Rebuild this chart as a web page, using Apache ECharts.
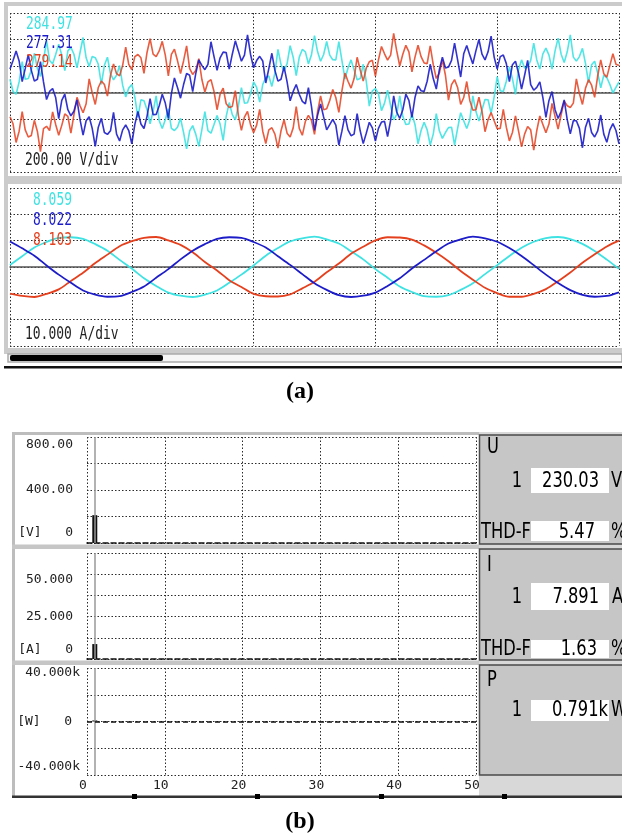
<!DOCTYPE html>
<html>
<head>
<meta charset="utf-8">
<script src="https://cdn.jsdelivr.net/npm/echarts@6/dist/echarts.min.js"></script>
<style>
html, body { margin: 0; padding: 0; background: #fff; }
#main { width: 622px; height: 838px; }
</style>
</head>
<body>
<div id="main"></div>
<script>
// (a) waveforms
var stepV = 0.25;   // ms between voltage samples
var voltCyan = [100,8,-13,80,233,100,106,167,296,180,122,238,393,241,217,287,365,282,166,314,
    340,289,186,302,415,262,197,271,263,213,62,205,266,142,96,130,203,55,-33,33,
    60,-33,-187,-55,-63,-130,-236,-142,-26,-213,-272,-205,-123,-271,-287,-262,-195,-302,-426,-289,
    -250,-314,-406,-282,-145,-287,-307,-241,-173,-238,-362,-180,-76,-167,-206,-100,37,-80,-77,-8,
    80,38,-73,60,113,125,46,147,326,210,162,218,353,266,127,267,325,307,216,284,
    430,309,236,287,385,282,247,246,383,243,102,185,246,172,96,105,213,85,-103,13,
    30,-8,-137,-80,17,-100,-206,-167,-26,-180,-242,-238,-163,-241,-387,-287,-225,-282,-396,-314,
    -160,-289,-346,-302,-265,-262,-397,-271,-153,-213,-272,-205,-26,-142,-216,-130,-53,-55,-157,-33,
    120,13,7,85,193,105,-14,172,246,185,192,243,373,246,177,292,335,282,176,314,
    410,289,226,307,435,267,237,271,333,218,72,210,236,147,36,130,113,60,-3,38,
    80];
var voltBlue = [177,241,313,238,82,180,286,167,86,100,233,80,-53,8,30,-38,-197,-60,-13,-130,
    -176,-142,-56,-205,-322,-213,-183,-271,-407,-262,-195,-302,-316,-289,-150,-314,-366,-282,-245,-287,
    -387,-241,-143,-238,-272,-180,-46,-167,-166,-100,-13,-80,-197,-8,110,38,-43,60,143,130,
    6,142,246,205,172,213,383,271,167,262,305,302,176,289,390,314,236,282,435,287,
    187,241,273,238,72,180,296,167,86,100,193,80,-63,8,60,-13,-67,-85,37,-105,
    -286,-172,-86,-185,-282,-243,-203,-246,-397,-292,-175,-282,-326,-314,-160,-289,-386,-307,-225,-267,
    -367,-271,-223,-218,-332,-210,-26,-147,-196,-130,-13,-60,-187,-38,50,13,7,85,213,105,
    26,172,266,185,192,243,373,246,117,292,355,282,216,314,400,289,246,307,425,267,
    177,271,283,218,82,210,236,147,26,130,243,60,17,38,80,-38,-187,-60,7,-130,
    -196,-142,-56,-205,-312,-213,-213,-271,-417,-262,-195,-302,-336,-289,-170,-314,-376,-282,-235,-287,
    -387];
var voltRed = [-183,-236,-377,-292,-145,-282,-336,-324,-210,-294,-446,-272,-255,-287,-147,-241,-323,-248,-162,-180,
    -306,-167,-36,-100,-153,-85,103,-3,-90,38,87,60,-27,130,216,142,126,205,342,213,
    173,271,287,262,145,302,406,289,270,314,386,282,125,287,327,241,143,238,352,180,
    136,167,256,100,3,80,97,8,-130,-13,33,-85,-113,-105,14,-172,-286,-185,-142,-243,
    -303,-246,-127,-292,-385,-282,-266,-314,-420,-289,-206,-307,-335,-267,-107,-271,-323,-218,-172,-210,
    -316,-147,-26,-130,-123,-60,23,-38,-150,13,147,85,33,105,266,172,86,185,232,243,
    123,246,347,292,245,282,446,314,200,289,356,307,155,267,357,271,223,218,352,210,
    106,147,246,130,-57,60,97,38,-90,-38,83,-60,-133,-130,-36,-142,-296,-205,-152,-213,
    -273,-271,-127,-262,-365,-302,-176,-289,-410,-314,-256,-282,-435,-287,-177,-241,-303,-238,-82,-180,
    -276,-167,-66,-100,-113,-80,103,-8,-90,33,97,55,-37,125,246,142,116,205,292,213,
    203];

var stepI = 1;     // ms between current samples
var ampCyan = [0.8,4.1,7.4,9.5,11.1,11.3,10.7,8.7,6.2,2.7,
    -0.6,-4.3,-7.2,-9.7,-10.9,-11.4,-10.5,-8.9,-6.0,-2.9,
    0.6,4.3,7.2,9.7,10.9,11.5,10.5,8.9,6.0,2.9,
    -0.8,-4.1,-7.4,-9.5,-11.1,-11.3,-10.7,-8.7,-6.2,-2.7,
    0.7,4.2,7.3,9.6,11.0,11.4,10.6,8.8,6.1,2.8,
    -0.7];
var ampBlue = [9.7,7.1,4.3,0.6,-2.9,-6.0,-8.9,-10.5,-11.3,-11.1,
    -9.5,-7.4,-4.1,-0.8,2.9,6.2,8.7,10.7,11.3,11.1,
    9.5,7.4,4.1,0.8,-2.7,-6.2,-8.7,-10.7,-11.4,-10.9,
    -9.7,-7.2,-4.3,-0.6,2.7,6.0,8.9,10.5,11.5,10.9,
    9.6,7.2,4.2,0.7,-2.9,-6.1,-8.8,-10.6,-11.3,-11.0,
    -9.6];
var ampRed = [-10.1,-11.0,-11.4,-10.2,-8.5,-5.3,-2.2,1.5,4.7,7.9,
    9.8,11.1,11.4,10.1,8.4,5.6,1.9,-1.3,-5.0,-7.6,
    -10.2,-11.1,-11.2,-10.4,-8.1,-5.6,-2.0,1.3,5.0,7.7,
    10.1,11.3,11.2,10.4,8.2,5.4,2.2,-1.5,-4.8,-7.9,
    -9.9,-11.3,-11.3,-10.2,-8.4,-5.4,-2.1,1.6,4.8,7.8,
    10.0];

var rmsV = ['284.97', '277.31', '279.14'];   // cyan, blue, red
var rmsA = ['8.059', '8.022', '8.103'];
var divV = '200.00 V/div';
var divA = '10.000 A/div';

// (b) harmonics
var harmOrder = [1];
var harmU = [210];
var harmI = [8.8];
var harmP = [791];
var readU = ['230.03', '5.47'];
var readI = ['7.891', '1.63'];
var readP = ['0.791k'];

var cCyan = '#3ee2e2', cBlue = '#1c1cc8', cRed = '#e4401e';
var mono = '"DejaVu Sans Mono", monospace';
var dots = { color: '#2a2a2a', width: 1, type: [1.5, 2] };

function pts(arr, step) {
    return arr.map(function (v, i) { return [i * step, v]; });
}
function bars(vals) {
    return vals.map(function (v, i) { return [harmOrder[i], v]; });
}

function waveX(idx) {
    return {
        gridIndex: idx, type: 'value', min: 0, max: 50, interval: 10,
        axisLine: { onZero: true, lineStyle: { color: '#555', width: 1.5 } },
        axisTick: { show: false }, axisLabel: { show: false },
        splitLine: { show: true, lineStyle: dots }
    };
}
function harmX(idx, labels) {
    return {
        gridIndex: idx, type: 'value', min: 0, max: 50, interval: 10,
        axisLine: { show: !labels, onZero: true, lineStyle: { color: '#111', width: 1.5, type: [5, 3] } },
        axisTick: { show: false },
        axisLabel: {
            show: labels, margin: 4, fontFamily: mono, fontSize: 13, color: '#222',
            padding: [0, 8, 0, 0]
        },
        splitLine: { show: true, lineStyle: dots }
    };
}
function harmY(idx, min, max, itv, margin, fmt) {
    var lab = { fontFamily: mono, fontSize: 13, color: '#222' };
    return {
        gridIndex: idx, type: 'value', min: min, max: max, interval: itv,
        axisLine: { show: false }, axisTick: { show: false },
        axisLabel: {
            margin: margin, fontFamily: mono, fontSize: 13, color: '#222', formatter: fmt,
            rich: {
                hi16: Object.assign({ padding: [16, 0, 0, 0] }, lab),
                hi10: Object.assign({ padding: [10, 0, 0, 0] }, lab),
                lo20: Object.assign({ padding: [0, 0, 20, 0] }, lab),
                lo18: Object.assign({ padding: [0, 0, 18, 0] }, lab),
                lo16: Object.assign({ padding: [0, 0, 16, 0] }, lab),
                sp: Object.assign({ padding: [0, 8, 0, 0] }, lab)
            }
        },
        splitLine: { show: true, lineStyle: dots }
    };
}

function txt(x, y, s, color, opt) {
    opt = opt || {};
    return {
        type: 'text', z: 10, x: x, y: y, scaleX: opt.sx || 0.72,
        style: {
            text: s, fill: color || '#222',
            font: opt.font || ('18px ' + mono),
            align: opt.align || 'left', verticalAlign: 'middle'
        }
    };
}
function box(x, y, w, h, fill, stroke) {
    return {
        type: 'rect', z: -10, shape: { x: x, y: y, width: w, height: h },
        style: { fill: fill, stroke: stroke || null, lineWidth: stroke ? 1.5 : 0 }
    };
}

var big = '22px "DejaVu Sans", sans-serif';
var bigS = 0.74;
var cursor = { symbol: 'none', silent: true, label: { show: false },
    lineStyle: { color: '#999', width: 1.5, type: 'solid' }, data: [{ xAxis: 1 }] };

function wave(xi, data, color, w, op, smooth) {
    return { type: 'line', xAxisIndex: xi, yAxisIndex: xi, smooth: smooth, showSymbol: false,
        data: data, lineStyle: { color: color, width: w, opacity: op }, itemStyle: { color: color } };
}
function bt(x, y, s, align) {
    return txt(x, y, s, '#000', { font: big, sx: bigS, align: align });
}

var option = {
    animation: false,
    backgroundColor: '#fff',
    grid: [
        { left: 10, top: 13, width: 609, height: 159 },
        { left: 10, top: 188, width: 609, height: 158 },
        { left: 87, top: 437, width: 389, height: 106 },
        { left: 87, top: 553, width: 389, height: 106 },
        { left: 87, top: 668, width: 389, height: 107 }
    ],
    xAxis: [waveX(0), waveX(1), harmX(2, false), harmX(3, false), harmX(4, true)],
    yAxis: [
        { gridIndex: 0, type: 'value', min: -600, max: 600, interval: 200,
          axisLine: { show: false }, axisTick: { show: false }, axisLabel: { show: false },
          splitLine: { show: true, lineStyle: dots } },
        { gridIndex: 1, type: 'value', min: -30, max: 30, interval: 10,
          axisLine: { show: false }, axisTick: { show: false }, axisLabel: { show: false },
          splitLine: { show: true, lineStyle: dots } },
        harmY(2, 0, 800, 200, 14, function (v) {
            if (v === 800) return '{hi16|800.00}';
            if (v === 400) return '400.00';
            if (v === 0) return '{lo20|[V]   0}';
            return '';
        }),
        harmY(3, 0, 62.5, 12.5, 14, function (v) {
            if (v === 50) return '{hi10|50.000}';
            if (v === 25) return '25.000';
            if (v === 0) return '{lo18|[A]   0}';
            return '';
        }),
        harmY(4, -40000, 40000, 20000, 7, function (v) {
            if (v === 40000) return '{hi10|40.000k}';
            if (v === 0) return '{sp|[W]   0}';
            if (v === -40000) return '{lo16|-40.000k}';
            return '';
        })
    ],
    series: [
        wave(0, pts(voltCyan, stepV), cCyan, 1.6, 0.9, false),
        wave(0, pts(voltRed, stepV), cRed, 1.6, 0.85, false),
        wave(0, pts(voltBlue, stepV), cBlue, 1.6, 0.9, false),

        wave(1, pts(ampCyan, stepI), cCyan, 1.8, 1, 0.3),
        wave(1, pts(ampRed, stepI), cRed, 1.8, 1, 0.3),
        wave(1, pts(ampBlue, stepI), cBlue, 1.8, 1, 0.3),

        { type: 'bar', xAxisIndex: 2, yAxisIndex: 2, barWidth: 5, data: bars(harmU),
          itemStyle: { color: '#111' }, markLine: cursor },
        { type: 'bar', xAxisIndex: 3, yAxisIndex: 3, barWidth: 5, data: bars(harmI),
          itemStyle: { color: '#111' }, markLine: cursor },
        { type: 'bar', xAxisIndex: 4, yAxisIndex: 4, barWidth: 5, data: bars(harmP),
          itemStyle: { color: '#111' },
          markLine: { symbol: 'none', silent: true, label: { show: false },
              data: [
                  { xAxis: 1, lineStyle: { color: '#999', width: 1.5, type: 'solid' } },
                  { yAxis: 0, lineStyle: { color: '#111', width: 1.5, type: [5, 3] } }
              ] } }
    ],
    graphic: { elements: [
        // (a) screen frame
        box(4, 2, 618, 352, '#cbcbcb'),
        box(8, 6, 614, 170, '#fff'),
        box(8, 184, 614, 164, '#fff'),
        box(8, 354, 614, 8, '#f6f6f6', '#aaa'),
        { type: 'rect', z: -9, shape: { x: 10, y: 355, width: 153, height: 6, r: 2 }, style: { fill: '#000' } },
        box(4, 366, 618, 2.5, '#111'),

        txt(26, 24, rmsV[0], cCyan), txt(26, 43, rmsV[1], cBlue), txt(26, 62, rmsV[2], cRed),
        txt(25, 160, divV, '#222'),
        txt(33, 200, rmsA[0], cCyan), txt(33, 220, rmsA[1], cBlue), txt(33, 240, rmsA[2], cRed),
        txt(25, 334, divA, '#222'),
        txt(300, 392, '(a)', '#000', { sx: 1, align: 'center', font: 'bold 24px "Liberation Serif", serif' }),

        // (b) frame
        box(12, 432, 467, 3, '#bdbdbd'),
        box(12, 432, 3, 365, '#bdbdbd'),
        box(12, 544.5, 467, 4.5, '#c6c6c6'),
        box(12, 660.5, 467, 4.5, '#c6c6c6'),
        box(479, 432, 143, 364, '#d8d8d8'),
        box(479.5, 435, 160, 109, '#c6c6c6', '#4a4a4a'),
        box(479.5, 549, 160, 111, '#c6c6c6', '#4a4a4a'),
        box(479.5, 665, 160, 110, '#c6c6c6', '#4a4a4a'),
        box(531, 468, 78, 25, '#fff'),
        box(531, 521, 78, 20, '#fff'),
        box(531, 583, 78, 27, '#fff'),
        box(531, 640, 78, 18, '#fff'),
        box(531, 700, 78, 21, '#fff'),
        box(12, 795.5, 610, 2.5, '#333'),
        box(132, 794, 5, 5, '#000'), box(255, 794, 5, 5, '#000'),
        box(379, 794, 5, 5, '#000'), box(502, 794, 5, 5, '#000'),

        bt(487, 447, 'U'),
        bt(522, 481, '1', 'right'),
        bt(599, 481, readU[0], 'right'),
        bt(611, 481, 'V'),
        bt(481, 532, 'THD-F'),
        bt(595, 532, readU[1], 'right'),
        bt(611, 532, '%'),

        bt(487, 565, 'I'),
        bt(522, 597, '1', 'right'),
        bt(599, 597, readI[0], 'right'),
        bt(612, 597, 'A'),
        bt(481, 649, 'THD-F'),
        bt(597, 649, readI[1], 'right'),
        bt(611, 649, '%'),

        bt(487, 680, 'P'),
        bt(522, 710, '1', 'right'),
        bt(608, 710, readP[0], 'right'),
        bt(611, 710, 'W'),

        txt(300, 822, '(b)', '#000', { sx: 1, align: 'center', font: 'bold 24px "Liberation Serif", serif' })
    ] }
};

var chart = echarts.init(document.getElementById('main'));
chart.setOption(option);
</script>
</body>
</html>
